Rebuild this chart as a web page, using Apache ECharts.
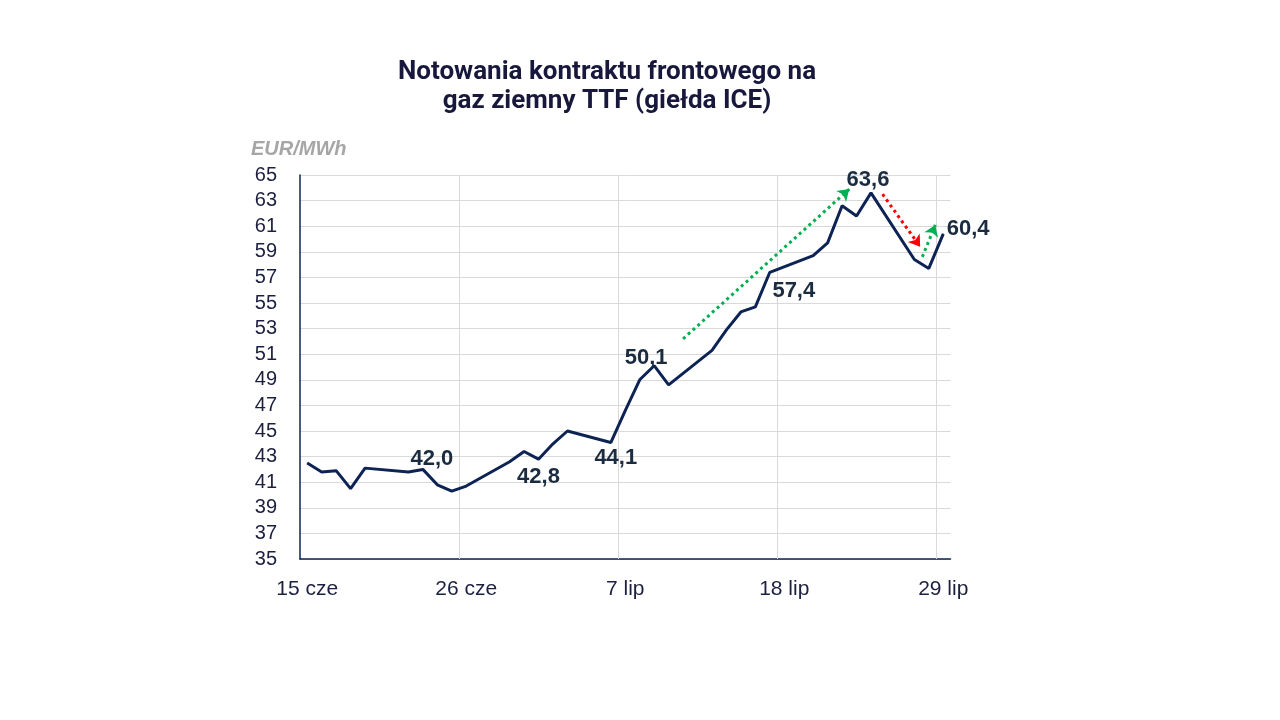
<!DOCTYPE html>
<html>
<head>
<meta charset="utf-8">
<script src="https://cdn.jsdelivr.net/npm/echarts@6/dist/echarts.min.js"></script>
<style>
  html, body { margin: 0; padding: 0; background: #ffffff; }
  #chart { width: 1280px; height: 720px; }
</style>
</head>
<body>
<div id="chart"></div>
<script>
// ---- Data ----
const tradeDates = [
  '2026-06-15','2026-06-16','2026-06-17','2026-06-18','2026-06-19',
  '2026-06-22','2026-06-23','2026-06-24','2026-06-25','2026-06-26',
  '2026-06-29','2026-06-30','2026-07-01','2026-07-02','2026-07-03',
  '2026-07-06','2026-07-07','2026-07-08','2026-07-09','2026-07-10',
  '2026-07-13','2026-07-14','2026-07-15','2026-07-16','2026-07-17',
  '2026-07-20','2026-07-21','2026-07-22','2026-07-23','2026-07-24',
  '2026-07-27','2026-07-28','2026-07-29'
];
const prices = [
  42.5, 41.8, 41.9, 40.5, 42.1,
  41.8, 42.0, 40.8, 40.3, 40.7,
  42.6, 43.4, 42.8, 44.0, 45.0,
  44.1, 46.6, 49.0, 50.1, 48.6,
  51.3, 52.9, 54.3, 54.7, 57.4,
  58.7, 59.7, 62.6, 61.8, 63.6,
  58.4, 57.7, 60.4
];
const xTickLabels = ['15 cze', '26 cze', '7 lip', '18 lip', '29 lip'];
const xTickEvery = 11; // days between labelled dates
const yMin = 35, yMax = 65, yStep = 2;
const labelledDates = ['2026-06-23','2026-07-01','2026-07-06','2026-07-09','2026-07-17','2026-07-24','2026-07-29'];
// trend arrows in data space (x = day number from 15 cze): [x1, y1, x2, y2, kind]
const trendArrows = [
  [26.0, 52.2, 37.5, 63.9, 'up'],
  [39.8, 63.5, 42.4, 59.4, 'down'],
  [42.55, 58.6, 43.45, 61.1, 'up']
];

// ---- Build calendar categories (every day, weekends empty) ----
const first = new Date(tradeDates[0] + 'T00:00:00Z');
const last = new Date(tradeDates[tradeDates.length - 1] + 'T00:00:00Z');
const calendar = [];
for (let d = new Date(first); d <= last; d.setUTCDate(d.getUTCDate() + 1)) {
  calendar.push(d.toISOString().slice(0, 10));
}
const priceByDate = {};
tradeDates.forEach((d, i) => { priceByDate[d] = prices[i]; });

const labelStyles = {
  '2026-06-23': { position: 'top', offset: [9, 6] },
  '2026-07-01': { position: 'bottom', offset: [0, 1] },
  '2026-07-06': { position: 'bottom', offset: [5, -1] },
  '2026-07-09': { position: 'top', offset: [-8, 9] },
  '2026-07-17': { position: 'bottom', offset: [24, 2] },
  '2026-07-24': { position: 'top', offset: [-3, 4] },
  '2026-07-29': { position: 'right', offset: [-2, -5] }
};
const fmt = v => v.toFixed(1).replace('.', ',');

const seriesData = calendar.map(d => {
  if (!(d in priceByDate)) return null;
  const item = { value: priceByDate[d] };
  if (labelledDates.includes(d)) {
    item.label = Object.assign({
      show: true,
      formatter: p => fmt(p.value),
      fontSize: 22,
      fontWeight: 'bold',
      color: '#1b2b40',
      fontFamily: 'Liberation Sans, Arial, sans-serif',
      distance: 5
    }, labelStyles[d]);
  }
  return item;
});

const arrowColors = { up: '#00b050', down: '#ff0000' };
const arrowData = trendArrows.map(a => ({
  coords: [[a[0], a[1]], [a[2], a[3]]],
  lineStyle: { color: arrowColors[a[4]] }
}));

// vertical gridlines at the left edge of each labelled day (not at the axis ends)
const vGrid = [];
for (let k = xTickEvery; k < calendar.length; k += xTickEvery) {
  vGrid.push({ coords: [[k - 0.5, yMin], [k - 0.5, yMax]] });
}

const chart = echarts.init(document.getElementById('chart'), null, { renderer: 'canvas' });
chart.setOption({
  animation: false,
  backgroundColor: '#ffffff',
  title: {
    text: 'Notowania kontraktu frontowego na\ngaz ziemny TTF (giełda ICE)',
    left: 602,
    top: 53,
    textAlign: 'center',
    textStyle: {
      fontFamily: 'Roboto, Liberation Sans, Arial, sans-serif',
      fontSize: 26,
      fontWeight: 'bold',
      color: '#18183d',
      lineHeight: 29
    }
  },
  graphic: [{
    type: 'text',
    left: 251,
    top: 139,
    style: {
      text: 'EUR/MWh',
      font: 'italic bold 20px "Liberation Sans", Arial, sans-serif',
      fill: '#a6a6a6'
    }
  }],
  grid: { left: 300, right: 329.5, top: 175, bottom: 161, containLabel: false },
  xAxis: [{
    type: 'category',
    position: 'bottom',
    data: calendar,
    boundaryGap: true,
    axisLine: { show: true, onZero: false, lineStyle: { color: '#0d2354', width: 1.5 } },
    axisTick: { show: false },
    axisLabel: {
      interval: (i) => i % xTickEvery === 0,
      formatter: (v, i) => xTickLabels[Math.round(i / xTickEvery)],
      margin: 20,
      fontSize: 21,
      color: '#1c1f3f',
      fontFamily: 'Liberation Sans, Arial, sans-serif'
    },
    splitLine: { show: false }
  }, {
    type: 'value',
    position: 'top',
    show: false,
    min: -0.5,
    max: calendar.length - 0.5,
    axisLine: { show: false, onZero: false },
    axisTick: { show: false },
    axisLabel: { show: false },
    splitLine: { show: false }
  }],
  yAxis: {
    type: 'value',
    min: yMin,
    max: yMax,
    interval: yStep,
    axisLine: { show: true, onZero: false, lineStyle: { color: '#0d2354', width: 1.5 } },
    axisTick: { show: false },
    axisLabel: {
      margin: 23,
      fontSize: 20,
      color: '#1c1f3f',
      fontFamily: 'Liberation Sans, Arial, sans-serif'
    },
    splitLine: { show: true, lineStyle: { color: '#d9d9d9', width: 1 } }
  },
  series: [{
    type: 'lines',
    coordinateSystem: 'cartesian2d',
    xAxisIndex: 1,
    yAxisIndex: 0,
    silent: true,
    symbol: 'none',
    lineStyle: { color: '#d9d9d9', width: 1, opacity: 1, curveness: 0 },
    data: vGrid,
    z: 1
  }, {
    type: 'line',
    xAxisIndex: 0,
    data: seriesData,
    connectNulls: true,
    showSymbol: true,
    showAllSymbol: true,
    symbol: 'circle',
    symbolSize: 1,
    lineStyle: { color: '#0d2354', width: 3 },
    itemStyle: { color: '#0d2354' },
    silent: true,
    z: 3
  }, {
    type: 'lines',
    coordinateSystem: 'cartesian2d',
    xAxisIndex: 1,
    yAxisIndex: 0,
    silent: true,
    symbol: ['none', 'arrow'],
    symbolSize: 11,
    lineStyle: { type: [3, 3.5], width: 3, opacity: 1, curveness: 0 },
    data: arrowData,
    z: 4
  }]
});
</script>
</body>
</html>
